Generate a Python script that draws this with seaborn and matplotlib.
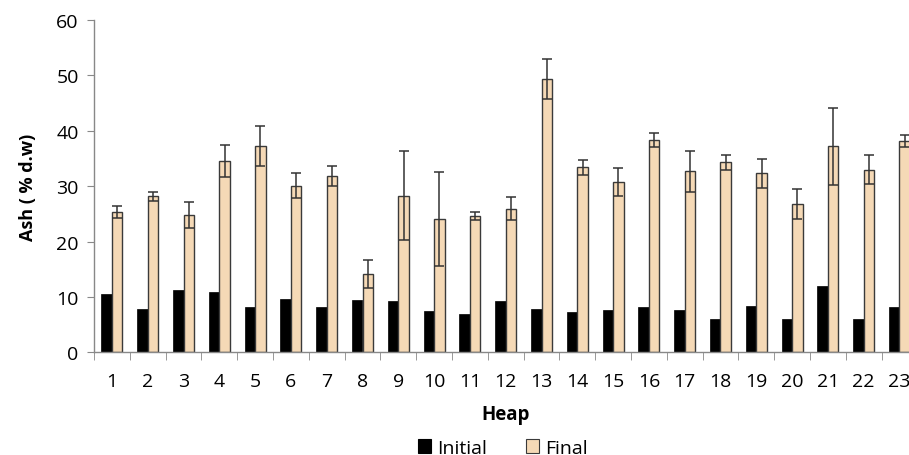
import matplotlib
matplotlib.use("Agg")
import matplotlib.pyplot as plt
import seaborn as sns
import pandas as pd
import numpy as np
from matplotlib.patches import Patch
from matplotlib.ticker import FixedLocator

heaps = [str(i) for i in range(1, 24)]
initial = [10.6, 7.9, 11.2, 10.8, 8.1, 9.7, 8.1, 9.4, 9.3, 7.5, 7.0, 9.3, 7.9,
           7.2, 7.7, 8.1, 7.7, 6.1, 8.4, 6.0, 11.9, 6.1, 8.1]
final = [25.3, 28.2, 24.8, 34.5, 37.2, 30.1, 31.9, 14.1, 28.3, 24.0, 24.6, 25.9, 49.3,
         33.4, 30.8, 38.3, 32.7, 34.3, 32.3, 26.8, 37.2, 33.0, 38.1]
final_err = [1.1, 0.8, 2.4, 2.9, 3.6, 2.2, 1.8, 2.5, 8.0, 8.5, 0.8, 2.1, 3.6,
             1.35, 2.5, 1.3, 3.7, 1.35, 2.65, 2.65, 7.0, 2.6, 1.1]
series = ["Initial", "Final"]
colors = ["#000000", "#F5D9B6"]

df = pd.DataFrame({
    "Heap": heaps * 2,
    "Series": ["Initial"] * len(heaps) + ["Final"] * len(heaps),
    "Ash": initial + final,
})

sns.set_style("white")
plt.rcParams["font.family"] = ["Open Sans", "DejaVu Sans"]
plt.rcParams["text.color"] = "black"
plt.rcParams["axes.labelcolor"] = "black"
plt.rcParams["xtick.color"] = "black"
plt.rcParams["ytick.color"] = "black"

fig = plt.figure(figsize=(9.09, 4.56), dpi=100)
ax = fig.add_axes([94 / 909, (456 - 353.3) / 456, 23 * 35.8 / 909, (353.3 - 21) / 456])

sns.barplot(data=df, x="Heap", y="Ash", hue="Series", hue_order=series,
            palette=colors, width=0.59, gap=0, ax=ax, legend=False,
            saturation=1)

for p in ax.containers[0]:
    p.set_edgecolor("#000000")
    p.set_linewidth(0.5)
for p in ax.containers[1]:
    p.set_edgecolor("#3a3a3a")
    p.set_linewidth(1.0)

xs = [p.get_x() + p.get_width() / 2 for p in ax.containers[1]]
ax.errorbar(xs, final, yerr=final_err, fmt="none", ecolor="#333333",
            elinewidth=1.1, capsize=3.5, capthick=1.1, zorder=5)

ax.set_ylim(0, 60)
ax.set_xlim(-0.5, len(heaps) - 0.5)
ax.set_yticks(range(0, 61, 10))
ax.tick_params(axis="y", labelsize=14, length=5, color="#888888", labelcolor="black",
               direction="out", left=True, pad=6)
ax.tick_params(axis="x", which="major", labelsize=14, length=0, pad=14, labelcolor="black")
ax.xaxis.set_minor_locator(FixedLocator(np.arange(-0.5, len(heaps), 1.0)))
ax.tick_params(axis="x", which="minor", length=6, color="#888888", direction="out", bottom=True)

for s in ["top", "right"]:
    ax.spines[s].set_visible(False)
for s in ["left", "bottom"]:
    ax.spines[s].set_color("#888888")
    ax.spines[s].set_linewidth(1.0)

ax.set_xlabel("Heap", fontsize=13.5, fontweight="bold", labelpad=10, color="black")
ax.set_ylabel("Ash ( % d.w)", fontsize=13, fontweight="bold", labelpad=14, color="black")

handles = [Patch(facecolor=colors[0], edgecolor="#000000", linewidth=0.8),
           Patch(facecolor=colors[1], edgecolor="#3a3a3a", linewidth=0.8)]
fig.legend(handles, series, loc="center", bbox_to_anchor=(0.553, 0.016), ncol=2,
           frameon=False, fontsize=14, handlelength=0.7, handleheight=0.7,
           handletextpad=0.3, columnspacing=2.0)

fig.savefig("out.png", dpi=100)
